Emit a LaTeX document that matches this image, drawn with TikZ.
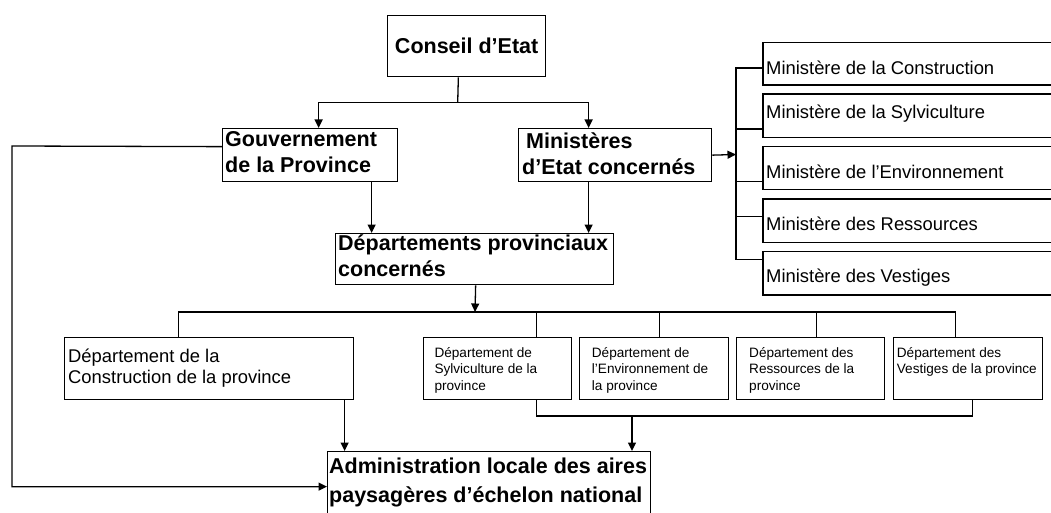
\documentclass[tikz,border=0pt]{standalone}
\usepackage{fontspec}
\setmainfont{Liberation Sans}
\usetikzlibrary{arrows.meta}
\begin{document}
\begin{tikzpicture}[x=1pt,y=-1pt,
  box/.style={draw, line width=1.3pt, inner sep=0pt, anchor=north west},
  conn/.style={line width=1.3pt},
  arr/.style={conn, -{Triangle[length=8.5pt,width=8pt]}},
  bigtxt/.style={font=\fontsize{21.5}{25.5}\selectfont\bfseries, inner sep=0pt, anchor=base west, align=left},
  midtxt/.style={font=\fontsize{18.4}{21}\selectfont, inner sep=0pt, anchor=base west, align=left},
  smalltxt/.style={font=\fontsize{13.6}{16.2}\selectfont, inner sep=0pt, anchor=base west, align=left},
]
\useasboundingbox (0,0) rectangle (1051,513);

% ---------- boxes ----------
\node[box, minimum width=158pt, minimum height=61pt, font=\fontsize{21.5}{25.5}\selectfont\bfseries] (cons) at (387,15) {Conseil d’Etat};
\node[box, minimum width=175pt, minimum height=53pt] (gouv) at (222,128) {};
\node[box, minimum width=193pt, minimum height=53pt] (mine) at (518,128) {};
\node[box, minimum width=278pt, minimum height=51pt] (dprov) at (335,233) {};

\node[box, minimum width=300pt, minimum height=42.6pt] (m1) at (762.3,41.7) {};
\node[box, minimum width=300pt, minimum height=43.4pt] (m2) at (762.3,93.3) {};
\node[box, minimum width=300pt, minimum height=43pt] (m3) at (762.3,146) {};
\node[box, minimum width=300pt, minimum height=43.4pt] (m4) at (762.3,198.3) {};
\node[box, minimum width=300pt, minimum height=43.6pt] (m5) at (762.3,250.7) {};

\node[box, minimum width=289pt, minimum height=62pt] (dcon) at (64,337) {};
\node[box, minimum width=148pt, minimum height=62pt] (dsyl) at (423,337) {};
\node[box, minimum width=149pt, minimum height=62pt] (denv) at (579,337) {};
\node[box, minimum width=148pt, minimum height=62pt] (dres) at (736,337) {};
\node[box, minimum width=149pt, minimum height=62pt] (dves) at (893,337) {};

\node[box, minimum width=323pt, minimum height=70pt] (admin) at (327,451) {};

% ---------- texts (anchor = baseline of the last line) ----------
\node[bigtxt] (tgouv) at (225,172.5) {Gouvernement\\de la Province};
\node[bigtxt] (tmine) at (522,174.1) {\hspace{4pt}Ministères\\d’Etat concernés};
\node[bigtxt] (tdprov) at (338,276.2) {Départements provinciaux\\concernés};
\node[bigtxt, font=\fontsize{21.5}{29}\selectfont\bfseries] (tadmin) at (329,502.3) {Administration locale des aires\\paysagères d’échelon national};

\node[midtxt] (tm1) at (766,75) {Ministère de la Construction};
\node[midtxt] (tm2) at (766,118.3) {Ministère de la Sylviculture};
\node[midtxt] (tm3) at (766,178.3) {Ministère de l’Environnement};
\node[midtxt] (tm4) at (766,230.7) {Ministère des Ressources};
\node[midtxt] (tm5) at (766,282.3) {Ministère des Vestiges};

\node[midtxt] (tdcon) at (68,383.3) {Département de la\\Construction de la province};
\node[smalltxt] (tdsyl) at (434.3,390.1) {Département de\\Sylviculture de la\\province};
\node[smalltxt] (tdenv) at (591.7,390.1) {Département de\\l’Environnement de\\la province};
\node[smalltxt] (tdres) at (749,390.1) {Département des\\Ressources de la\\province};
\node[smalltxt] (tdves) at (896.7,373.9) {Département des\\Vestiges de la province};

% ---------- connectors ----------
\coordinate (j1) at (457.7,102.3);
\draw[conn] ([xshift=-8.3pt]cons.south) -- (j1);
\draw[arr] (j1) -| ([xshift=8.5pt]gouv.north);
\draw[arr] (j1) -| ([xshift=-26.5pt]mine.north);

\coordinate (g1) at ([xshift=61.5pt]gouv.south);
\draw[arr] (g1) -- (g1 |- dprov.north);
\coordinate (g2) at ([xshift=-26.5pt]mine.south);
\draw[arr] (g2) -- (g2 |- dprov.north);

% ministries bus
\coordinate (j2) at (736,154.5);
\draw[arr] (mine.east) -- (j2);
\coordinate (b1) at ([yshift=-4.3pt]m1.west);
\coordinate (b2) at ([yshift=-13.3pt]m2.west);
\coordinate (b3) at ([yshift=-13.2pt]m3.west);
\coordinate (b4) at ([yshift=4.3pt]m4.west);
\coordinate (b5) at ([yshift=13.5pt]m5.west);
\draw[conn] (b1) -| (j2) |- (b5);
\draw[conn] (b2) -- (b2 -| j2);
\draw[conn] (b3) -- (b3 -| j2);
\draw[conn] (b4) -- (b4 -| j2);

% departments bus
\coordinate (j3) at (475,312);
\draw[arr] ([xshift=1pt]dprov.south) -- (j3);
\draw[conn] ([xshift=-30.5pt]dcon.north) |- (j3) -| ([xshift=-12.5pt]dves.north);
\coordinate (c2) at ([xshift=39pt]dsyl.north);
\coordinate (c3) at ([xshift=5.5pt]denv.north);
\coordinate (c4) at ([xshift=6pt]dres.north);
\draw[conn] (c2) -- (c2 |- j3);
\draw[conn] (c3) -- (c3 |- j3);
\draw[conn] (c4) -- (c4 |- j3);

% bottom bus
\coordinate (j4) at (632,416);
\draw[conn] ([xshift=39pt]dsyl.south) |- (j4) -| ([xshift=4.5pt]dves.south);
\draw[arr] (j4) -- (j4 |- admin.north);
\coordinate (d1) at ([xshift=135.5pt]dcon.south);
\draw[arr] (d1) -- (d1 |- admin.north);

% government to administration
\coordinate (k1) at (12,146);
\draw[arr] ([yshift=8.5pt]gouv.west) -- (k1) |- (admin.west);
\end{tikzpicture}
\end{document}
